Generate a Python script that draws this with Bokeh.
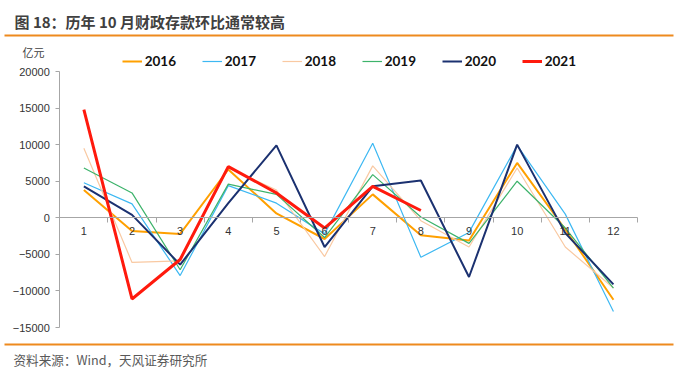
from bokeh.plotting import figure
from bokeh.models import (Range1d, LinearAxis, FixedTicker, Legend, LegendItem,
                          Label, BoxAnnotation, ColumnDataSource)
from bokeh.embed import file_html
from bokeh.resources import INLINE

months = [1, 2, 3, 4, 5, 6, 7, 8, 9, 10, 11, 12]
month_labels = {m: str(m) for m in months}
y2016 = [3800, -1800, -2200, 6600, 600, -2900, 3200, -2400, -3100, 7500, -1600, -11200]
y2017 = [4800, 1900, -7900, 4400, 2000, -2200, 10200, -5400, -2000, 9900, 500, -12800]
y2018 = [9500, -6100, -5900, 6800, 3800, -5300, 7100, -400, -4000, 6800, -4000, -9600]
y2019 = [6800, 3400, -7100, 4600, 3200, -2700, 5900, 100, -3500, 5000, -1400, -9600]
y2020 = [4300, 400, -6400, 2000, 9900, -4000, 4300, 5100, -8100, 10000, -2100, -9100]
y2021 = [14800, -11100, -5700, 7000, 3400, -1400, 4300, 1000]
y_ticks = [-15000, -10000, -5000, 0, 5000, 10000, 15000, 20000]

title_text = "图 18：历年 10 月财政存款环比通常较高"
unit_text = "亿元"
source_text = "资料来源：Wind，天风证券研究所"

series = [
    ("2016", y2016, "#FFA000", 2.0),
    ("2017", y2017, "#3DB8F2", 1.2),
    ("2018", y2018, "#F9C9A2", 1.2),
    ("2019", y2019, "#3DB36B", 1.2),
    ("2020", y2020, "#1B3170", 2.0),
    ("2021", y2021, "#FF1A0D", 3.0),
]

W, H = 687, 376
# plotting area in canvas pixels
PL, PR, PT, PB = 59.3, 637.0, 71.0, 327.0
XMIN, XMAX, YMIN, YMAX = 0.5, 12.5, -15000, 20000
kx = (PR - PL) / (XMAX - XMIN)
ky = (PB - PT) / (YMAX - YMIN)
x_range = Range1d(XMIN - PL / kx, XMAX + (W - PR) / kx)
y_range = Range1d(YMIN - (H - PB) / ky, YMAX + PT / ky)

p = figure(width=W, height=H, output_backend="svg", toolbar_location=None,
           x_range=x_range, y_range=y_range,
           x_axis_type=None, y_axis_type=None,
           min_border=0, min_border_left=0, min_border_right=0,
           min_border_top=0, min_border_bottom=0)
p.outline_line_color = None
p.xgrid.visible = False
p.ygrid.visible = False
p.background_fill_color = "white"
p.border_fill_color = "white"

yaxis = LinearAxis(ticker=FixedTicker(ticks=y_ticks), fixed_location=XMIN,
                   bounds=(YMIN, YMAX))
yaxis.axis_line_color = "#A6A6A6"
yaxis.major_tick_line_color = "#A6A6A6"
yaxis.major_tick_out = 4
yaxis.major_tick_in = 0
yaxis.minor_tick_line_color = None
yaxis.major_label_standoff = 6
yaxis.major_label_text_font = "Liberation Sans"
yaxis.major_label_text_font_size = "11px"
yaxis.major_label_text_color = "#333333"
p.add_layout(yaxis, "left")

xaxis = LinearAxis(ticker=FixedTicker(ticks=months,
                                      minor_ticks=[m - 0.5 for m in months] + [12.5]),
                   fixed_location=0, bounds=(XMIN, XMAX))
xaxis.major_label_overrides = month_labels
xaxis.axis_line_color = "#A6A6A6"
xaxis.major_tick_line_color = None
xaxis.major_tick_out = 0
xaxis.major_tick_in = 0
xaxis.minor_tick_line_color = "#A6A6A6"
xaxis.minor_tick_out = 5
xaxis.minor_tick_in = 0
xaxis.major_label_standoff = 4
xaxis.major_label_text_font = "Liberation Sans"
xaxis.major_label_text_font_size = "11px"
xaxis.major_label_text_color = "#333333"
p.add_layout(xaxis, "below")

items = []
for name, ys, color, lw in series:
    src = ColumnDataSource(dict(x=months[:len(ys)], y=ys))
    r = p.line("x", "y", source=src, line_color=color, line_width=lw)
    items.append(LegendItem(label=name, renderers=[r]))

legend = Legend(items=items, orientation="horizontal", location=(121.7, H - 50.5 - 20),
                padding=0, margin=0, spacing=0, glyph_width=20, glyph_height=20,
                label_standoff=3, label_width=57, label_height=20,
                label_text_font="Lato", label_text_font_style="bold",
                label_text_font_size="13.5px", label_text_color="#111111",
                border_line_color=None, background_fill_alpha=0)
p.add_layout(legend, "center")

def sy(y):
    return H - y

p.add_layout(Label(x=14, y=sy(21), x_units="screen", y_units="screen",
                   text=title_text, text_font="Noto Sans CJK SC", text_font_style="bold",
                   text_font_size="15px", text_color="#404040",
                   text_baseline="middle", text_align="left"))
p.add_layout(Label(x=22, y=sy(51), x_units="screen", y_units="screen",
                   text=unit_text, text_font="Noto Sans CJK SC",
                   text_font_size="11px", text_color="#404040",
                   text_baseline="middle", text_align="left"))
p.add_layout(Label(x=13, y=sy(359), x_units="screen", y_units="screen",
                   text=source_text, text_font="Noto Sans CJK SC",
                   text_font_size="12.6px", text_color="#595959",
                   text_baseline="middle", text_align="left"))

for yy in (35, 344):
    p.add_layout(BoxAnnotation(left=4, right=673, top=sy(yy - 1), bottom=sy(yy + 1),
                               left_units="screen", right_units="screen",
                               top_units="screen", bottom_units="screen",
                               fill_color="#EE8A1E", fill_alpha=1, line_color=None))

open("out.html", "w").write(file_html(p, INLINE))
